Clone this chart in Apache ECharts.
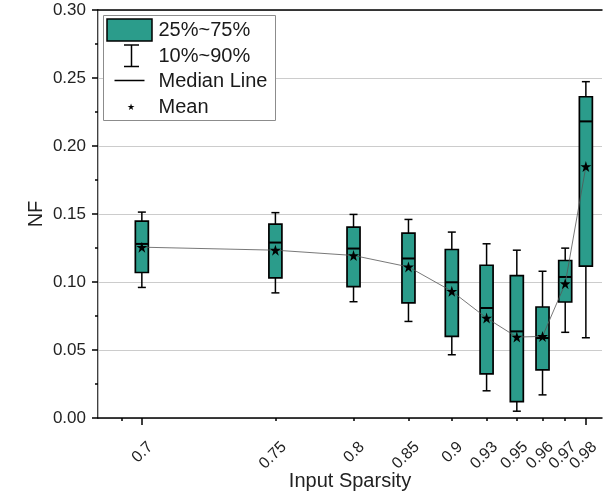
<!DOCTYPE html>
<html>
<head>
<meta charset="utf-8">
<script src="https://cdn.jsdelivr.net/npm/echarts@6/dist/echarts.min.js"></script>
<style>
  html, body { margin: 0; padding: 0; background: #fff; }
  #chart { width: 603px; height: 491px; }
</style>
</head>
<body>
<div id="chart"></div>
<script>
// 横轴：输入稀疏度标签，以及它们在横轴上的位置（原图刻度不等距）
const sparsity = ['0.7', '0.75', '0.8', '0.85', '0.9', '0.93', '0.95', '0.96', '0.97', '0.98']
const xPos = [8.7, 35.2, 50.7, 61.6, 70.2, 77.1, 83.1, 88.2, 92.7, 96.8]
const xExtraTicks = [4.7]

// 每个稀疏度下 NF 的分布
const p10 = [0.096, 0.092, 0.0855, 0.071, 0.0465, 0.020, 0.005, 0.017, 0.063, 0.059]
const q25 = [0.107, 0.103, 0.0966, 0.0846, 0.060, 0.0324, 0.012, 0.0354, 0.0853, 0.1116]
const median = [0.128, 0.129, 0.1246, 0.1173, 0.0998, 0.0809, 0.0637, 0.0588, 0.1037, 0.2181]
const q75 = [0.1448, 0.1426, 0.1404, 0.1359, 0.1239, 0.1123, 0.1047, 0.0816, 0.1158, 0.2362]
const p90 = [0.1514, 0.151, 0.1497, 0.146, 0.1367, 0.1281, 0.1234, 0.1079, 0.1249, 0.2473]
const mean = [0.1256, 0.1234, 0.1195, 0.1111, 0.0932, 0.0735, 0.0595, 0.060, 0.0988, 0.1849]

const legendNames = ['25%~75%', '10%~90%', 'Median Line', 'Mean']

const FONT = 'Liberation Sans, Arial, sans-serif'
const TEAL = '#2b9c8b'
const STAR = 'path://M50 0 L61.2 34.5 L97.6 34.5 L68.2 55.9 L79.4 90.5 L50 69.1 L20.6 90.5 L31.8 55.9 L2.4 34.5 L38.8 34.5 Z'

const chart = echarts.init(document.getElementById('chart'))

const boxData = xPos.map((x, i) => [x, p10[i], q25[i], median[i], q75[i], p90[i]])
const meanData = xPos.map((x, i) => [x, mean[i]])

// 标签太挤，ECharts 会隐藏相邻的，所以分到两根轴上
const labelsEven = xPos.filter((v, i) => i % 2 === 0)
const labelsOdd = xPos.filter((v, i) => i % 2 === 1)

// 画箱体、须线和中位线
function renderBox(params, api) {
  const x = api.value(0)
  const low = api.coord([x, api.value(1)])
  const b1 = api.coord([x, api.value(2)])
  const med = api.coord([x, api.value(3)])
  const b3 = api.coord([x, api.value(4)])
  const high = api.coord([x, api.value(5)])
  const cx = low[0]
  const half = 6.5
  const cap = 4
  const line = (x1, y1, x2, y2, w) => ({
    type: 'line',
    shape: { x1, y1, x2, y2 },
    style: { stroke: '#000', lineWidth: w }
  })
  return {
    type: 'group',
    children: [
      line(cx, high[1], cx, b3[1], 1.5),
      line(cx, b1[1], cx, low[1], 1.5),
      line(cx - cap, high[1], cx + cap, high[1], 1.5),
      line(cx - cap, low[1], cx + cap, low[1], 1.5),
      {
        type: 'rect',
        shape: { x: cx - half, y: b3[1], width: half * 2, height: b1[1] - b3[1] },
        style: { fill: TEAL, stroke: '#000', lineWidth: 1.7 }
      },
      line(cx - half, med[1], cx + half, med[1], 2)
    ]
  }
}

const xLabel = values => ({
  customValues: values,
  formatter: v => sparsity[xPos.indexOf(v)],
  rotate: 45,
  align: 'right',
  verticalAlign: 'top',
  margin: 18,
  padding: [4, 0, 0, 0],
  hideOverlap: false,
  fontSize: 16,
  color: '#222',
  fontFamily: FONT
})

const option = {
  animation: false,
  textStyle: { fontFamily: FONT },
  grid: { left: 98, right: 1, top: 10, bottom: 73, outerBoundsMode: 'none' },
  xAxis: [
    {
      type: 'value',
      min: 0,
      max: 100,
      position: 'bottom',
      name: 'Input Sparsity',
      nameLocation: 'middle',
      nameGap: 53,
      nameMoveOverlap: false,
      nameTextStyle: { fontSize: 20, color: '#222', fontFamily: FONT },
      axisLine: { lineStyle: { color: '#000', width: 1.5 } },
      axisTick: {
        customValues: xExtraTicks.concat(xPos),
        length: 3,
        lineStyle: { color: '#000', width: 1.5 }
      },
      axisLabel: xLabel(labelsEven),
      splitLine: { show: false }
    },
    {
      // 首尾两个长刻度 + 另一半标签
      type: 'value',
      min: 0,
      max: 100,
      position: 'bottom',
      axisLine: { show: false },
      axisTick: {
        customValues: [xPos[0], xPos[xPos.length - 1]],
        length: 7,
        lineStyle: { color: '#000', width: 1.5 }
      },
      axisLabel: xLabel(labelsOdd),
      splitLine: { show: false }
    },
    {
      type: 'value',
      min: 0,
      max: 100,
      position: 'top',
      axisLine: { lineStyle: { color: '#000', width: 1.5 } },
      axisTick: { show: false },
      axisLabel: { show: false },
      splitLine: { show: false }
    }
  ],
  yAxis: [
    {
      type: 'value',
      min: 0,
      max: 0.3,
      interval: 0.05,
      name: 'NF',
      nameLocation: 'middle',
      nameGap: 52,
      nameMoveOverlap: false,
      nameTextStyle: { fontSize: 20, color: '#222', fontFamily: FONT },
      axisLine: { show: true, lineStyle: { color: '#000', width: 1.5 } },
      axisTick: { show: true, length: 6, lineStyle: { color: '#000', width: 1.5 } },
      minorTick: { show: true, splitNumber: 2, length: 3, lineStyle: { color: '#000', width: 1.5 } },
      axisLabel: {
        formatter: v => v.toFixed(2),
        margin: 12,
        fontSize: 17,
        color: '#222',
        fontFamily: FONT
      },
      splitLine: { show: true, lineStyle: { color: '#cccccc', width: 1 } }
    },
    {
      type: 'value',
      min: 0,
      max: 0.3,
      position: 'right',
      axisLine: { show: true, lineStyle: { color: '#bbbbbb', width: 1 } },
      axisTick: { show: false },
      axisLabel: { show: false },
      splitLine: { show: false }
    }
  ],
  series: [
    {
      name: legendNames[0],
      type: 'custom',
      renderItem: renderBox,
      encode: { x: 0, y: [1, 2, 3, 4, 5] },
      data: boxData,
      z: 2
    },
    {
      name: legendNames[3],
      type: 'line',
      data: meanData,
      symbol: STAR,
      symbolSize: 11,
      itemStyle: { color: '#000' },
      lineStyle: { color: '#555', width: 0.8 },
      z: 3
    }
  ],
  graphic: [
    {
      type: 'group',
      left: 103,
      top: 15,
      z: 100,
      children: [
        { type: 'rect', z: 100, shape: { x: 0, y: 0, width: 172, height: 105 }, style: { fill: '#fff', stroke: '#8c8c8c', lineWidth: 1 } },
        { type: 'rect', z: 101, shape: { x: 3.5, y: 3.5, width: 45, height: 22 }, style: { fill: TEAL, stroke: '#000', lineWidth: 1.5 } },
        { type: 'line', z: 101, shape: { x1: 28, y1: 29.5, x2: 28, y2: 51 }, style: { stroke: '#000', lineWidth: 1.5 } },
        { type: 'line', z: 101, shape: { x1: 20.5, y1: 29.5, x2: 35.5, y2: 29.5 }, style: { stroke: '#000', lineWidth: 1.5 } },
        { type: 'line', z: 101, shape: { x1: 20.5, y1: 51, x2: 35.5, y2: 51 }, style: { stroke: '#000', lineWidth: 1.5 } },
        { type: 'line', z: 101, shape: { x1: 11, y1: 65, x2: 41, y2: 65 }, style: { stroke: '#000', lineWidth: 1.5 } },
        { type: 'text', z: 101, x: 27, y: 92, style: { text: '★', fontSize: 9, fill: '#000', align: 'center', verticalAlign: 'middle' } },
        { type: 'text', z: 101, x: 55, y: 14.5, style: { text: legendNames[0], fontSize: 20, fontFamily: FONT, fill: '#1a1a1a', verticalAlign: 'middle' } },
        { type: 'text', z: 101, x: 55, y: 40.5, style: { text: legendNames[1], fontSize: 20, fontFamily: FONT, fill: '#1a1a1a', verticalAlign: 'middle' } },
        { type: 'text', z: 101, x: 55, y: 65.5, style: { text: legendNames[2], fontSize: 20, fontFamily: FONT, fill: '#1a1a1a', verticalAlign: 'middle' } },
        { type: 'text', z: 101, x: 55, y: 92, style: { text: legendNames[3], fontSize: 20, fontFamily: FONT, fill: '#1a1a1a', verticalAlign: 'middle' } }
      ]
    }
  ]
}

chart.setOption(option)
</script>
</body>
</html>
